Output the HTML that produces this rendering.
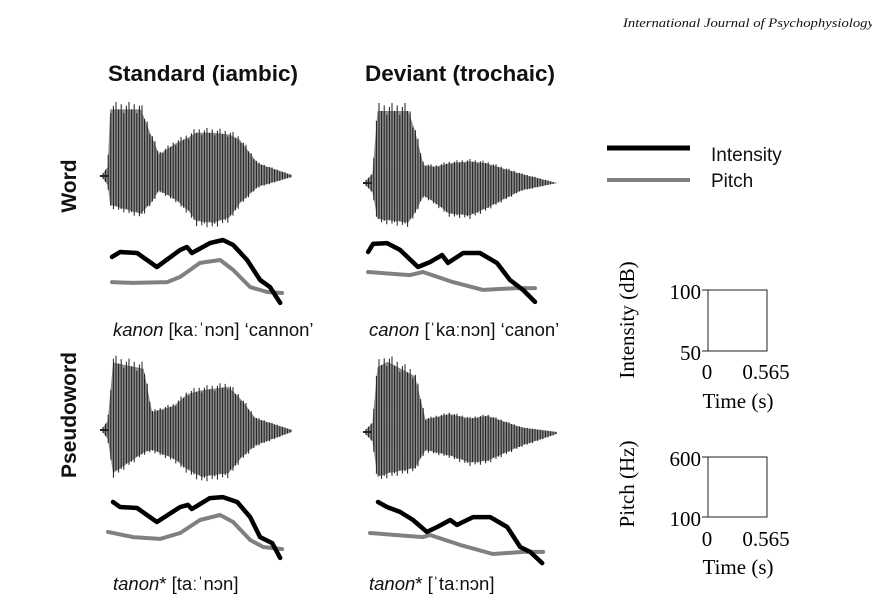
<!DOCTYPE html>
<html><head><meta charset="utf-8"><style>
html,body{margin:0;padding:0;background:#fff;}
svg{display:block;}
.t{font-family:"Liberation Sans",sans-serif;}
.s{font-family:"Liberation Serif",serif;}
</style></head><body>
<svg id="fig" width="872" height="613" viewBox="0 0 872 613">
<text class="s" x="623" y="27" font-size="13" font-style="italic" fill="#111" textLength="262" lengthAdjust="spacingAndGlyphs">International Journal of Psychophysiology 1</text>
<text class="t" x="108" y="81" font-size="22.5" font-weight="bold" fill="#111">Standard (iambic)</text>
<text class="t" x="365" y="81" font-size="22.5" font-weight="bold" fill="#111">Deviant (trochaic)</text>
<text class="t" transform="translate(76,186) rotate(-90)" text-anchor="middle" font-size="21" font-weight="bold" fill="#111">Word</text>
<text class="t" transform="translate(76,415) rotate(-90)" text-anchor="middle" font-size="21" font-weight="bold" fill="#111">Pseudoword</text>
<text class="t" x="113" y="336" font-size="18.5" fill="#111"><tspan font-style="italic">kanon</tspan> [kaːˈnɔn] ‘cannon’</text>
<text class="t" x="369" y="336" font-size="18.5" fill="#111"><tspan font-style="italic">canon</tspan> [ˈkaːnɔn] ‘canon’</text>
<text class="t" x="113" y="590" font-size="18.5" fill="#111"><tspan font-style="italic">tanon</tspan>* [taːˈnɔn]</text>
<text class="t" x="369" y="590" font-size="18.5" fill="#111"><tspan font-style="italic">tanon</tspan>* [ˈtaːnɔn]</text>
<g>
<line x1="607" y1="148" x2="690" y2="148" stroke="#000" stroke-width="5"/>
<text class="t" x="711" y="161" font-size="19" fill="#111">Intensity</text>
<line x1="607" y1="180" x2="690" y2="180" stroke="#808080" stroke-width="4"/>
<text class="t" x="711" y="187" font-size="19" fill="#111">Pitch</text>
</g>
<g>
<rect x="708" y="290" width="59" height="61" fill="none" stroke="#222" stroke-width="1"/>
<line x1="702" y1="290" x2="708" y2="290" stroke="#222"/>
<line x1="702" y1="351" x2="708" y2="351" stroke="#222"/>
<text class="s" x="701" y="299" font-size="21" text-anchor="end">100</text>
<text class="s" x="701" y="360" font-size="21" text-anchor="end">50</text>
<text class="s" x="707" y="379" font-size="21" text-anchor="middle">0</text>
<text class="s" x="766" y="379" font-size="21" text-anchor="middle">0.565</text>
<text class="s" x="738" y="408" font-size="21" text-anchor="middle">Time (s)</text>
<text class="s" transform="translate(634,320) rotate(-90)" font-size="21" text-anchor="middle">Intensity (dB)</text>
</g>
<g>
<rect x="708" y="457" width="59" height="60" fill="none" stroke="#222" stroke-width="1"/>
<line x1="702" y1="457" x2="708" y2="457" stroke="#222"/>
<line x1="702" y1="517" x2="708" y2="517" stroke="#222"/>
<text class="s" x="701" y="466" font-size="21" text-anchor="end">600</text>
<text class="s" x="701" y="526" font-size="21" text-anchor="end">100</text>
<text class="s" x="707" y="546" font-size="21" text-anchor="middle">0</text>
<text class="s" x="766" y="546" font-size="21" text-anchor="middle">0.565</text>
<text class="s" x="738" y="574" font-size="21" text-anchor="middle">Time (s)</text>
<text class="s" transform="translate(634,484) rotate(-90)" font-size="21" text-anchor="middle">Pitch (Hz)</text>
</g>
</svg>
<script>
// ---- contour data (time in ms, intensity in dB, pitch in Hz) ----
const wsIntT = [13,39,94,158,233,255,271,329,371,404,449,491,523,556];
const wsIntDb = [73.5,75.4,75,69.6,76.2,77.3,75,78.8,80,78.1,72.3,64.6,61.9,55.8];
const wsPitT = [13,81,191,233,297,362,404,459,514,562];
const wsPitHz = [238,235,238,258,312,323,285,219,200,196];
const wdIntT = [10,26,71,113,171,210,249,268,317,371,426,468,510,549];
const wdIntDb = [75.4,78.5,78.8,76.2,69.6,71.5,74.2,71.2,75,75,71.2,64.6,60.8,56.2];
const wdPitT = [10,145,187,284,381,491,549];
const wdPitHz = [277,265,277,238,208,215,215];
const psIntT = [16,39,94,158,233,258,271,329,371,417,459,491,530,556];
const psIntDb = [77.3,75.4,75,69.6,75.4,76.2,74.6,78.8,79.2,77.3,71.5,63.8,61.5,55.8];
const psPitT = [0,81,168,233,297,362,404,459,501,562];
const psPitHz = [258,238,231,254,304,323,296,227,200,192];
const pdIntT = [42,71,113,155,200,233,275,297,349,404,459,501,533,572];
const pdIntDb = [77.3,75.4,73.5,70.4,65.8,67.7,70.4,68.5,71.5,71.5,67.7,60,58.1,53.8];
const pdPitT = [16,187,210,307,413,510,575];
const pdPitHz = [254,238,246,208,173,181,181];
// ---- waveform envelopes (time in ms, amplitude up / down) ----
const wsEnvT = [0,15,23,120,152,178,230,272,295,350,402,435,491,600];
const wsEnvUp = [3,10,74,74,46,24,36,43,48,48,46,40,14,1];
const wsEnvDn = [3,10,32,42,30,16,26,39,50,52,46,30,12,1];
const wdEnvT = [0,20,36,133,152,181,217,262,326,378,488,600];
const wdEnvUp = [3,10,80,80,60,20,18,22,24,22,10,0];
const wdEnvDn = [3,10,40,44,34,14,22,34,36,28,8,0];
const psEnvT = [0,15,32,129,156,226,269,312,398,441,484,600];
const psEnvUp = [3,10,75,68,20,27,40,44,48,33,13,0];
const psEnvDn = [3,10,48,25,22,32,44,52,48,30,17,2];
const pdEnvT = [0,20,36,68,154,187,262,327,381,489,600];
const pdEnvUp = [3,10,72,78,62,14,20,15,18,5,0];
const pdEnvDn = [3,10,50,46,40,20,26,34,32,15,2];

const NS='http://www.w3.org/2000/svg';
const svg=document.getElementById('fig');
function mk(tag,attrs){const e=document.createElementNS(NS,tag);for(const k in attrs)e.setAttribute(k,attrs[k]);svg.appendChild(e);return e;}
function xScale(x0){return t=>x0+t/565*175;}
function dbScale(y0){return db=>y0+(80-db)*2.6;}
function hzScale(y0){return hz=>y0+(400-hz)*0.26;}
function interp(ts,vs,t){if(t<=ts[0])return vs[0];for(let i=1;i<ts.length;i++){if(t<=ts[i]){const f=(t-ts[i-1])/(ts[i]-ts[i-1]);return vs[i-1]+f*(vs[i]-vs[i-1]);}}return vs[vs.length-1];}

function drawLine(ts,vs,xs,ys,color,w,name){
  const d=ts.map((t,i)=>(i?'L':'M')+xs(t).toFixed(1)+' '+ys(vs[i]).toFixed(1)).join(' ');
  const p=mk('path',{d:d,fill:'none',stroke:color,'stroke-width':w,'stroke-linejoin':'round','stroke-linecap':'round'});
  
  
}
function drawWave(ts,up,dn,x0,w,cy,name){
  const tEnd=ts[ts.length-1];
  const xs=t=>x0+t/tEnd*w;
  let d='M'+xs(ts[0])+' '+(cy-up[0]);
  ts.forEach((t,i)=>{d+=' L'+xs(t).toFixed(1)+' '+(cy-up[i]*0.9).toFixed(1);});
  for(let i=ts.length-1;i>=0;i--){d+=' L'+xs(ts[i]).toFixed(1)+' '+(cy+dn[i]*0.9).toFixed(1);}
  d+='Z';
  const p=mk('path',{d:d,fill:'#8c8c8c',stroke:'none'});
  
  
  let sd='';let k=0;
  for(let t=ts[0];t<=tEnd;t+=tEnd/w*2.6){
    const f=[1,0.9,0.97,0.85,0.95][k%5];k++;
    const u=interp(ts,up,t)*f,dd=interp(ts,dn,t)*[0.93,1,0.88,0.97][k%4];
    sd+='M'+xs(t).toFixed(1)+' '+(cy-u).toFixed(1)+' V'+(cy+dd).toFixed(1)+' ';
  }
  const s=mk('path',{d:sd,stroke:'#1c1c1c','stroke-width':1,fill:'none'});
  
  
  const c=mk('line',{x1:x0-3,y1:cy,x2:x0+6,y2:cy,stroke:'#222','stroke-width':2});
  
  
}
drawWave(wsEnvT,wsEnvUp,wsEnvDn,103,189,176,'waveform-word-standard');
drawWave(wdEnvT,wdEnvUp,wdEnvDn,366,191,183,'waveform-word-deviant');
drawWave(psEnvT,psEnvUp,psEnvDn,103,189,430,'waveform-pseudo-standard');
drawWave(pdEnvT,pdEnvUp,pdEnvDn,366,191,432,'waveform-pseudo-deviant');

drawLine(wsPitT,wsPitHz,xScale(108),hzScale(240),'#808080',4,'pitch-word-standard');
drawLine(wsIntT,wsIntDb,xScale(108),dbScale(240),'#000',4.5,'intensity-word-standard');
drawLine(wdPitT,wdPitHz,xScale(365),hzScale(240),'#808080',4,'pitch-word-deviant');
drawLine(wdIntT,wdIntDb,xScale(365),dbScale(240),'#000',4.5,'intensity-word-deviant');
drawLine(psPitT,psPitHz,xScale(108),hzScale(495),'#808080',4,'pitch-pseudo-standard');
drawLine(psIntT,psIntDb,xScale(108),dbScale(495),'#000',4.5,'intensity-pseudo-standard');
drawLine(pdPitT,pdPitHz,xScale(365),hzScale(495),'#808080',4,'pitch-pseudo-deviant');
drawLine(pdIntT,pdIntDb,xScale(365),dbScale(495),'#000',4.5,'intensity-pseudo-deviant');
</script>
</body></html>
